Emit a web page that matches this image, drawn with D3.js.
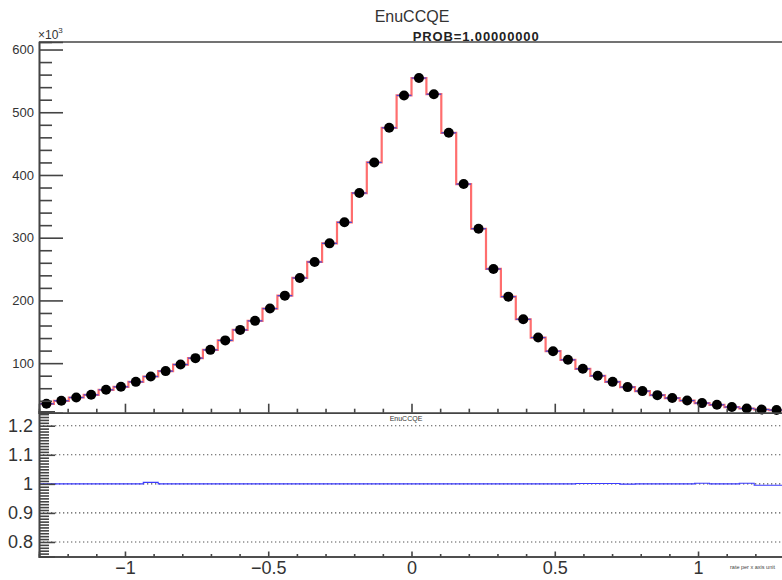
<!DOCTYPE html>
<html>
<head>
<meta charset="utf-8">
<script src="https://cdn.jsdelivr.net/npm/d3@7"></script>
<style>
  html, body { margin: 0; padding: 0; background: #fff; }
  svg { display: block; font-family: "Liberation Sans", Arial, Helvetica, sans-serif; }
</style>
</head>
<body>
<svg id="chart" width="782" height="580"></svg>
<script>
// ---------------- data ----------------
const histTitle = "EnuCCQE";
const probText = "PROB=1.00000000";
const xMin = -1.3, xMax = 1.3, nBins = 50;
// counts per bin (x10^3)
const counts = [35.2, 40.0, 45.2, 49.5, 57.5, 62.3, 70.2, 78.7, 87.3, 97.8,
                108.0, 121.2, 136.3, 153.0, 167.4, 187.0, 207.6, 235.8, 261.3, 291.0,
                324.5, 371.2, 420.0, 475.2, 526.8, 554.5, 528.8, 467.2, 385.5, 314.3,
                250.2, 206.0, 170.0, 140.8, 119.1, 105.3, 91.0, 79.8, 70.2, 61.8,
                55.4, 49.0, 44.3, 40.4, 36.3, 33.6, 30.0, 27.7, 26.1, 25.2];
// ratio per bin (lower pad)
const ratio = [1.000, 1.000, 1.000, 1.000, 1.000, 1.000, 1.000, 1.005, 1.000, 1.000,
               1.000, 1.000, 1.000, 1.000, 1.000, 1.000, 1.000, 1.000, 1.000, 1.000,
               1.000, 1.000, 1.000, 1.000, 1.000, 1.000, 1.000, 1.000, 1.000, 1.000,
               1.000, 1.000, 1.000, 1.000, 1.000, 1.000, 1.001, 1.001, 1.001, 0.999,
               1.000, 1.000, 1.000, 1.000, 1.002, 1.000, 1.000, 1.002, 0.995, 0.995];
const topYTicks = [100, 200, 300, 400, 500, 600];
const botYTicks = [0.8, 0.9, 1, 1.1, 1.2];
const xTicks = [-1, -0.5, 0, 0.5, 1];

// ---------------- layout ----------------
const svg = d3.select("#chart");
const L = 39, R = 784;
const topT = 42, topB = 412.7;
const botT = 411.2, botB = 556.5;
const axisCol = "#444", textCol = "#333";

const binW = (xMax - xMin) / nBins;
const bins = counts.map((c, i) => ({ x0: xMin + i * binW, x1: xMin + (i + 1) * binW, xc: xMin + (i + 0.5) * binW, v: c, r: ratio[i] }));

const x = d3.scaleLinear().domain([xMin, xMax]).range([L, R]);
const yTop = d3.scaleLinear().domain([21, 612]).range([topB, topT]);
const yBot = d3.scaleLinear().domain([0.75, 1.25]).range([botB, botT]);

// ---------------- titles ----------------
svg.append("text").attr("x", 412).attr("y", 22).attr("text-anchor", "middle")
  .attr("font-size", 16).attr("fill", textCol).text(histTitle);

// ---------------- top pad ----------------
svg.append("line").attr("x1", L).attr("x2", 782).attr("y1", topT).attr("y2", topT)
  .attr("stroke", axisCol).attr("stroke-width", 1.6);

// step histogram (red), built from bins
const stepPts = [];
stepPts.push([x(bins[0].x0), yTop(bins[0].v)]);
bins.forEach(b => { stepPts.push([x(b.x0), yTop(b.v)]); stepPts.push([x(b.x1), yTop(b.v)]); });
svg.append("path").attr("d", d3.line()(stepPts)).attr("fill", "none")
  .attr("stroke", "#ff6e6e").attr("stroke-width", 2.2);
// blue histogram horizontals
svg.append("g").selectAll("line").data(bins).join("line")
  .attr("x1", d => x(d.x0)).attr("x2", d => x(d.x1))
  .attr("y1", d => yTop(d.v)).attr("y2", d => yTop(d.v))
  .attr("stroke", "#4b4bd6").attr("stroke-width", 1.3);
// points
svg.append("g").selectAll("circle").data(bins).join("circle")
  .attr("cx", d => x(d.xc)).attr("cy", d => yTop(d.v)).attr("r", 5).attr("fill", "#000");

// top y axis, major
const gTopY = svg.append("g").attr("transform", `translate(${L},0)`)
  .call(d3.axisLeft(yTop).tickValues(topYTicks).tickSize(-24).tickPadding(5).tickFormat(d3.format("d")));
// top y axis, minor
svg.append("g").attr("transform", `translate(${L},0)`)
  .call(d3.axisLeft(yTop).tickValues(d3.range(40, 612, 20).filter(v => v % 100 !== 0)).tickSize(-13).tickFormat(""));
// top x axis
const minorX = d3.range(-12, 13).map(v => v / 10).filter(v => Math.abs(v * 2 - Math.round(v * 2)) > 1e-6);
svg.append("g").attr("transform", `translate(0,${topB})`)
  .call(d3.axisBottom(x).tickValues(minorX).tickSize(-4).tickFormat(""));
svg.append("g").attr("transform", `translate(0,${topB})`)
  .call(d3.axisBottom(x).tickValues(xTicks).tickSize(-9).tickFormat(""));

// x10^3
const exp = svg.append("text").attr("x", 38).attr("y", 39).attr("font-size", 12).attr("fill", textCol);
exp.append("tspan").text("\u00d710");
exp.append("tspan").attr("dy", -6).attr("font-size", 8).text("3");

svg.append("text").attr("x", 412.7).attr("y", 41).attr("font-size", 13).attr("font-weight", "bold")
  .attr("fill", "#222").attr("textLength", 126).text(probText);

// ---------------- bottom pad ----------------
svg.append("g").selectAll("line").data(botYTicks).join("line")
  .attr("x1", L).attr("x2", 782).attr("y1", d => yBot(d)).attr("y2", d => yBot(d))
  .attr("stroke", "#555").attr("stroke-width", 1.1).attr("stroke-dasharray", "1.3,2.7");

const rPts = [];
bins.forEach(b => { rPts.push([x(b.x0), yBot(b.r)]); rPts.push([x(b.x1), yBot(b.r)]); });
svg.append("path").attr("d", d3.line()(rPts)).attr("fill", "none")
  .attr("stroke", "#3b3bff").attr("stroke-width", 1.1);

svg.append("g").attr("transform", `translate(${L},0)`)
  .call(d3.axisLeft(yBot).tickValues(botYTicks).tickSize(-16).tickPadding(6).tickFormat(d3.format("")));
svg.append("g").attr("transform", `translate(${L},0)`)
  .call(d3.axisLeft(yBot).tickValues(d3.range(76, 125).map(v => v / 100).filter(v => Math.round(v * 100) % 10 !== 0)).tickSize(-10).tickFormat(""));

svg.append("g").attr("transform", `translate(0,${botB})`)
  .call(d3.axisBottom(x).tickValues(minorX).tickSize(-2.5).tickFormat(""));
const gBX = svg.append("g").attr("transform", `translate(0,${botB})`)
  .call(d3.axisBottom(x).tickValues(xTicks).tickSize(-5).tickPadding(4.5).tickFormat(d3.format("")));
gBX.selectAll(".tick text").attr("dy", "0.71em");

svg.append("text").attr("x", 406).attr("y", 421).attr("text-anchor", "middle")
  .attr("font-size", 7).attr("fill", textCol).text(histTitle);
svg.append("text").attr("x", 730).attr("y", 569).attr("font-size", 5.5).attr("fill", "#444").text("rate per x axis unit");

// ---------------- axis styling ----------------
svg.selectAll(".domain").attr("stroke", axisCol).attr("stroke-width", 1.6);
svg.selectAll(".tick line").attr("stroke", axisCol).attr("stroke-width", 1.6);
svg.selectAll(".tick text").attr("fill", textCol).attr("font-family", "Liberation Sans, Arial, sans-serif").attr("font-size", 18);
gTopY.selectAll(".tick text").attr("font-size", 13);
</script>
</body>
</html>
